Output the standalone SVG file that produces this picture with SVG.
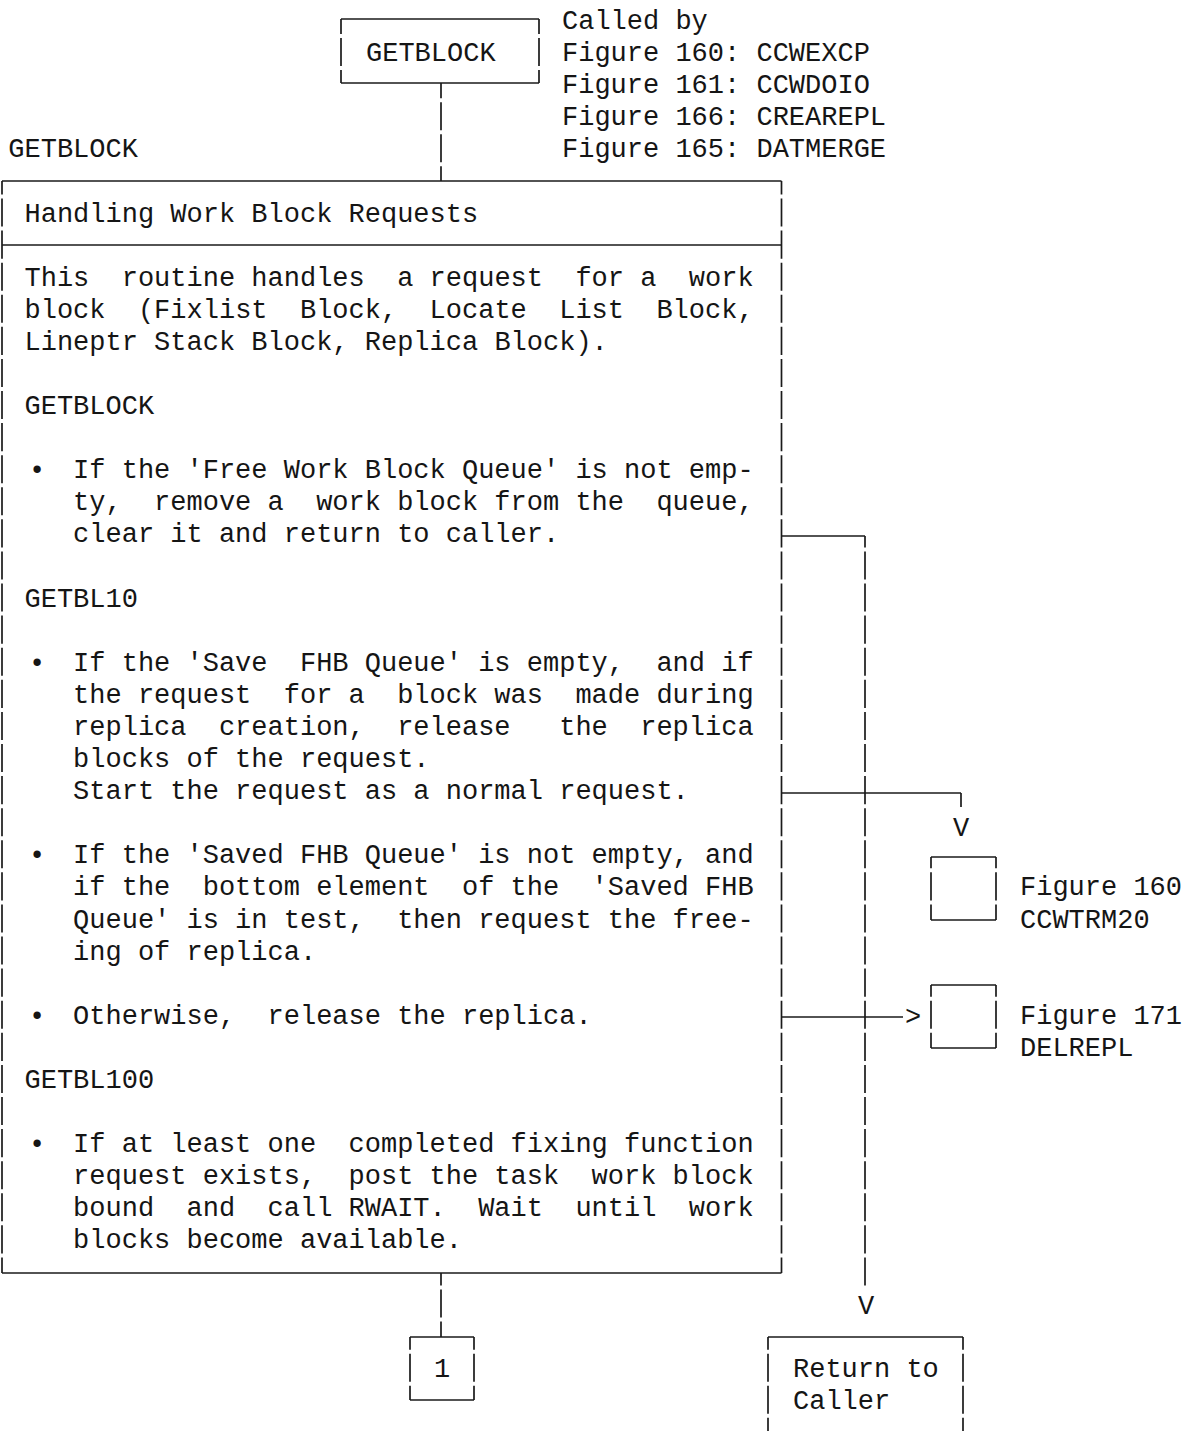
<svg xmlns="http://www.w3.org/2000/svg" width="1188" height="1431" viewBox="0 0 1188 1431" xml:space="preserve">
  <style>
    text { font-family: "Liberation Mono", "DejaVu Sans Mono", monospace; font-size: 27px; fill: #151515; white-space: pre; }
    .mid { text-anchor: middle; }
    line, path { stroke: #1a1a1a; stroke-width: 1.7; fill: none; }
    /* vertical rules break slightly at every text row, as on a line printer */
    .v { stroke-dasharray: 28.09 4; }
  </style>
  <rect width="1188" height="1431" fill="#fff"/>

  <!-- entry box -->
  <g id="node-getblock-entry">
    <line x1="341" y1="19" x2="539" y2="19"/>
    <line x1="341" y1="83" x2="539" y2="83"/>
    <line class="v" x1="341" y1="19" x2="341" y2="83" style="stroke-dashoffset:13.09"/>
    <line class="v" x1="539" y1="19" x2="539" y2="83" style="stroke-dashoffset:13.09"/>
    <text x="366" y="61.1">GETBLOCK</text>
  </g>

  <g id="called-by">
    <text x="562" y="29">Called by</text>
    <text x="562" y="61.1">Figure 160: CCWEXCP</text>
    <text x="562" y="93.2">Figure 161: CCWDOIO</text>
    <text x="562" y="125.3">Figure 166: CREAREPL</text>
    <text x="562" y="157.4">Figure 165: DATMERGE</text>
  </g>

  <g id="routine-label">
    <text x="8.3" y="157.4">GETBLOCK</text>
  </g>

  <!-- main routine description -->
  <g id="node-main">
    <line x1="2" y1="181" x2="781.5" y2="181"/>
    <line x1="2" y1="245" x2="781.5" y2="245"/>
    <line x1="2" y1="1273" x2="781.5" y2="1273"/>
    <line class="v" x1="2" y1="181" x2="2" y2="1273" style="stroke-dashoffset:14.64"/>
    <line class="v" x1="781.5" y1="181" x2="781.5" y2="1273" style="stroke-dashoffset:14.64"/>

    <text x="24.5" y="221.5">Handling Work Block Requests</text>

    <text x="24.5" y="285.7">This  routine handles  a request  for a  work</text>
    <text x="24.5" y="317.8">block  (Fixlist  Block,  Locate  List  Block,</text>
    <text x="24.5" y="349.9">Lineptr Stack Block, Replica Block).</text>

    <text x="24.5" y="414.1">GETBLOCK</text>

    <text class="mid" x="37" y="478.3">•</text>
    <text x="73.1" y="478.3">If the 'Free Work Block Queue' is not emp-</text>
    <text x="73.1" y="510.4">ty,  remove a  work block from the  queue,</text>
    <text x="73.1" y="542.4">clear it and return to caller.</text>

    <text x="24.5" y="606.6">GETBL10</text>

    <text class="mid" x="37" y="670.8">•</text>
    <text x="73.1" y="670.8">If the 'Save  FHB Queue' is empty,  and if</text>
    <text x="73.1" y="702.9">the request  for a  block was  made during</text>
    <text x="73.1" y="735">replica  creation,  release   the  replica</text>
    <text x="73.1" y="767.1">blocks of the request.</text>
    <text x="73.1" y="799.2">Start the request as a normal request.</text>

    <text class="mid" x="37" y="863.3">•</text>
    <text x="73.1" y="863.3">If the 'Saved FHB Queue' is not empty, and</text>
    <text x="73.1" y="895.4">if the  bottom element  of the  'Saved FHB</text>
    <text x="73.1" y="927.5">Queue' is in test,  then request the free-</text>
    <text x="73.1" y="959.6">ing of replica.</text>

    <text class="mid" x="37" y="1023.8">•</text>
    <text x="73.1" y="1023.8">Otherwise,  release the replica.</text>

    <text x="24.5" y="1088">GETBL100</text>

    <text class="mid" x="37" y="1152.2">•</text>
    <text x="73.1" y="1152.2">If at least one  completed fixing function</text>
    <text x="73.1" y="1184.2">request exists,  post the task  work block</text>
    <text x="73.1" y="1216.3">bound  and  call RWAIT.  Wait  until  work</text>
    <text x="73.1" y="1248.4">blocks become available.</text>
  </g>

  <!-- off-page connector -->
  <g id="node-1">
    <line x1="410" y1="1337" x2="474" y2="1337"/>
    <line x1="410" y1="1400" x2="474" y2="1400"/>
    <line class="v" x1="410" y1="1337" x2="410" y2="1400" style="stroke-dashoffset:15.4"/>
    <line class="v" x1="474" y1="1337" x2="474" y2="1400" style="stroke-dashoffset:15.4"/>
    <text class="mid" x="442" y="1376.8">1</text>
  </g>

  <g id="node-return">
    <line x1="768" y1="1337" x2="963" y2="1337"/>
    <line class="v" x1="768" y1="1337" x2="768" y2="1431" style="stroke-dashoffset:15.4"/>
    <line class="v" x1="963" y1="1337" x2="963" y2="1431" style="stroke-dashoffset:15.4"/>
    <text x="793" y="1376.8">Return to</text>
    <text x="793" y="1408.9">Caller</text>
  </g>

  <g id="node-ccwtrm20">
    <line x1="931" y1="857" x2="996" y2="857"/>
    <line x1="931" y1="920" x2="996" y2="920"/>
    <line class="v" x1="931" y1="857" x2="931" y2="920" style="stroke-dashoffset:16.75"/>
    <line class="v" x1="996" y1="857" x2="996" y2="920" style="stroke-dashoffset:16.75"/>
    <text x="1020" y="895.4">Figure 160</text>
    <text x="1020" y="927.5">CCWTRM20</text>
  </g>

  <g id="node-delrepl">
    <line x1="931" y1="985" x2="996" y2="985"/>
    <line x1="931" y1="1048" x2="996" y2="1048"/>
    <line class="v" x1="931" y1="985" x2="931" y2="1048" style="stroke-dashoffset:16.39"/>
    <line class="v" x1="996" y1="985" x2="996" y2="1048" style="stroke-dashoffset:16.39"/>
    <text x="1020" y="1023.8">Figure 171</text>
    <text x="1020" y="1055.9">DELREPL</text>
  </g>

  <g id="connectors">
    <!-- entry to routine -->
    <line class="v" x1="441" y1="83" x2="441" y2="181" style="stroke-dashoffset:12.91"/>
    <!-- routine to off-page connector -->
    <line class="v" x1="441" y1="1273" x2="441" y2="1337" style="stroke-dashoffset:15.58"/>
    <!-- return to caller -->
    <line x1="781.5" y1="536" x2="865" y2="536"/>
    <line class="v" x1="865" y1="536" x2="865" y2="1288" style="stroke-dashoffset:16.65"/>
    <text class="mid" x="866" y="1314">V</text>
    <!-- CCWTRM20 call -->
    <line x1="781.5" y1="793" x2="961" y2="793"/>
    <line x1="961" y1="793" x2="961" y2="807"/>
    <text class="mid" x="961" y="836">V</text>
    <!-- DELREPL call -->
    <line x1="781.5" y1="1017" x2="903" y2="1017"/>
    <text class="mid" x="913" y="1025">&gt;</text>
  </g>
</svg>
